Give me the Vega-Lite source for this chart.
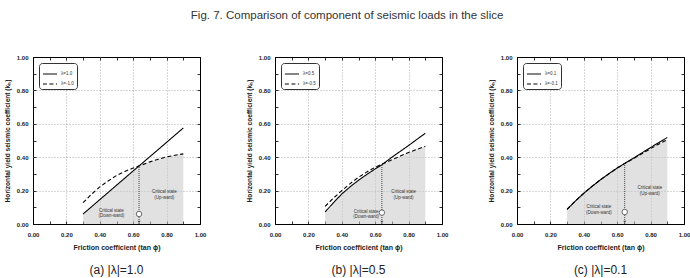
{
  "$schema": "https://vega.github.io/schema/vega-lite/v6.json",
  "padding": {"left": 3, "top": 10, "right": 2, "bottom": 0},
  "background": "white",
  "title": {"text": "Fig. 7. Comparison of component of seismic loads  in the slice", "font": "Liberation Sans", "fontSize": 11.5, "fontWeight": "normal", "color": "#333", "anchor": "middle", "offset": 32},
  "config": {"view": {"stroke": "black", "strokeWidth": 1}},
  "spacing": 38,
  "resolve": {"scale": {"strokeDash": "independent"}, "legend": {"strokeDash": "independent"}},
  "datasets": {
    "lines": [
      {"p": "a", "s": "λ=1.0", "x": 0.3, "y": 0.06},
      {"p": "a", "s": "λ=1.0", "x": 0.45, "y": 0.189},
      {"p": "a", "s": "λ=1.0", "x": 0.6, "y": 0.318},
      {"p": "a", "s": "λ=1.0", "x": 0.75, "y": 0.446},
      {"p": "a", "s": "λ=1.0", "x": 0.9, "y": 0.575},
      {"p": "a", "s": "λ=-1.0", "x": 0.3, "y": 0.128},
      {"p": "a", "s": "λ=-1.0", "x": 0.35, "y": 0.178},
      {"p": "a", "s": "λ=-1.0", "x": 0.4, "y": 0.222},
      {"p": "a", "s": "λ=-1.0", "x": 0.45, "y": 0.258},
      {"p": "a", "s": "λ=-1.0", "x": 0.5, "y": 0.29},
      {"p": "a", "s": "λ=-1.0", "x": 0.55, "y": 0.315},
      {"p": "a", "s": "λ=-1.0", "x": 0.6, "y": 0.335},
      {"p": "a", "s": "λ=-1.0", "x": 0.65, "y": 0.353},
      {"p": "a", "s": "λ=-1.0", "x": 0.7, "y": 0.372},
      {"p": "a", "s": "λ=-1.0", "x": 0.75, "y": 0.388},
      {"p": "a", "s": "λ=-1.0", "x": 0.8, "y": 0.402},
      {"p": "a", "s": "λ=-1.0", "x": 0.85, "y": 0.412},
      {"p": "a", "s": "λ=-1.0", "x": 0.9, "y": 0.42},
      {"p": "b", "s": "λ=0.5", "x": 0.3, "y": 0.072},
      {"p": "b", "s": "λ=0.5", "x": 0.35, "y": 0.128},
      {"p": "b", "s": "λ=0.5", "x": 0.4, "y": 0.18},
      {"p": "b", "s": "λ=0.5", "x": 0.45, "y": 0.223},
      {"p": "b", "s": "λ=0.5", "x": 0.5, "y": 0.262},
      {"p": "b", "s": "λ=0.5", "x": 0.55, "y": 0.297},
      {"p": "b", "s": "λ=0.5", "x": 0.6, "y": 0.33},
      {"p": "b", "s": "λ=0.5", "x": 0.64, "y": 0.355},
      {"p": "b", "s": "λ=0.5", "x": 0.7, "y": 0.4},
      {"p": "b", "s": "λ=0.5", "x": 0.75, "y": 0.435},
      {"p": "b", "s": "λ=0.5", "x": 0.8, "y": 0.47},
      {"p": "b", "s": "λ=0.5", "x": 0.85, "y": 0.507},
      {"p": "b", "s": "λ=0.5", "x": 0.9, "y": 0.543},
      {"p": "b", "s": "λ=-0.5", "x": 0.3, "y": 0.106},
      {"p": "b", "s": "λ=-0.5", "x": 0.35, "y": 0.155},
      {"p": "b", "s": "λ=-0.5", "x": 0.4, "y": 0.2},
      {"p": "b", "s": "λ=-0.5", "x": 0.45, "y": 0.242},
      {"p": "b", "s": "λ=-0.5", "x": 0.5, "y": 0.28},
      {"p": "b", "s": "λ=-0.5", "x": 0.55, "y": 0.312},
      {"p": "b", "s": "λ=-0.5", "x": 0.6, "y": 0.34},
      {"p": "b", "s": "λ=-0.5", "x": 0.64, "y": 0.358},
      {"p": "b", "s": "λ=-0.5", "x": 0.7, "y": 0.385},
      {"p": "b", "s": "λ=-0.5", "x": 0.75, "y": 0.407},
      {"p": "b", "s": "λ=-0.5", "x": 0.8, "y": 0.428},
      {"p": "b", "s": "λ=-0.5", "x": 0.85, "y": 0.447},
      {"p": "b", "s": "λ=-0.5", "x": 0.9, "y": 0.465},
      {"p": "c", "s": "λ=0.1", "x": 0.3, "y": 0.088},
      {"p": "c", "s": "λ=0.1", "x": 0.35, "y": 0.138},
      {"p": "c", "s": "λ=0.1", "x": 0.4, "y": 0.184},
      {"p": "c", "s": "λ=0.1", "x": 0.45, "y": 0.226},
      {"p": "c", "s": "λ=0.1", "x": 0.5, "y": 0.265},
      {"p": "c", "s": "λ=0.1", "x": 0.55, "y": 0.301},
      {"p": "c", "s": "λ=0.1", "x": 0.6, "y": 0.335},
      {"p": "c", "s": "λ=0.1", "x": 0.64, "y": 0.36},
      {"p": "c", "s": "λ=0.1", "x": 0.7, "y": 0.396},
      {"p": "c", "s": "λ=0.1", "x": 0.75, "y": 0.427},
      {"p": "c", "s": "λ=0.1", "x": 0.8, "y": 0.458},
      {"p": "c", "s": "λ=0.1", "x": 0.85, "y": 0.488},
      {"p": "c", "s": "λ=0.1", "x": 0.9, "y": 0.518},
      {"p": "c", "s": "λ=-0.1", "x": 0.3, "y": 0.088},
      {"p": "c", "s": "λ=-0.1", "x": 0.35, "y": 0.138},
      {"p": "c", "s": "λ=-0.1", "x": 0.4, "y": 0.184},
      {"p": "c", "s": "λ=-0.1", "x": 0.45, "y": 0.226},
      {"p": "c", "s": "λ=-0.1", "x": 0.5, "y": 0.265},
      {"p": "c", "s": "λ=-0.1", "x": 0.55, "y": 0.301},
      {"p": "c", "s": "λ=-0.1", "x": 0.6, "y": 0.335},
      {"p": "c", "s": "λ=-0.1", "x": 0.64, "y": 0.359},
      {"p": "c", "s": "λ=-0.1", "x": 0.7, "y": 0.393},
      {"p": "c", "s": "λ=-0.1", "x": 0.75, "y": 0.422},
      {"p": "c", "s": "λ=-0.1", "x": 0.8, "y": 0.452},
      {"p": "c", "s": "λ=-0.1", "x": 0.85, "y": 0.479},
      {"p": "c", "s": "λ=-0.1", "x": 0.9, "y": 0.505}
    ],
    "area": [
      {"p": "a", "x": 0.3, "y": 0.06},
      {"p": "a", "x": 0.45, "y": 0.189},
      {"p": "a", "x": 0.6, "y": 0.318},
      {"p": "a", "x": 0.63, "y": 0.344},
      {"p": "a", "x": 0.65, "y": 0.353},
      {"p": "a", "x": 0.7, "y": 0.372},
      {"p": "a", "x": 0.75, "y": 0.388},
      {"p": "a", "x": 0.8, "y": 0.402},
      {"p": "a", "x": 0.85, "y": 0.412},
      {"p": "a", "x": 0.9, "y": 0.42},
      {"p": "b", "x": 0.3, "y": 0.072},
      {"p": "b", "x": 0.35, "y": 0.128},
      {"p": "b", "x": 0.4, "y": 0.18},
      {"p": "b", "x": 0.45, "y": 0.223},
      {"p": "b", "x": 0.5, "y": 0.262},
      {"p": "b", "x": 0.55, "y": 0.297},
      {"p": "b", "x": 0.6, "y": 0.33},
      {"p": "b", "x": 0.64, "y": 0.355},
      {"p": "b", "x": 0.7, "y": 0.385},
      {"p": "b", "x": 0.75, "y": 0.407},
      {"p": "b", "x": 0.8, "y": 0.428},
      {"p": "b", "x": 0.85, "y": 0.447},
      {"p": "b", "x": 0.9, "y": 0.465},
      {"p": "c", "x": 0.3, "y": 0.088},
      {"p": "c", "x": 0.35, "y": 0.138},
      {"p": "c", "x": 0.4, "y": 0.184},
      {"p": "c", "x": 0.45, "y": 0.226},
      {"p": "c", "x": 0.5, "y": 0.265},
      {"p": "c", "x": 0.55, "y": 0.301},
      {"p": "c", "x": 0.6, "y": 0.335},
      {"p": "c", "x": 0.64, "y": 0.359},
      {"p": "c", "x": 0.7, "y": 0.393},
      {"p": "c", "x": 0.75, "y": 0.422},
      {"p": "c", "x": 0.8, "y": 0.452},
      {"p": "c", "x": 0.85, "y": 0.479},
      {"p": "c", "x": 0.9, "y": 0.505}
    ],
    "vline": [
      {"p": "a", "x": 0.635, "y0": 0.0, "y1": 0.347, "yc": 0.06, "ya": 0.012},
      {"p": "b", "x": 0.64, "y0": 0.0, "y1": 0.356, "yc": 0.068, "ya": 0.012},
      {"p": "c", "x": 0.645, "y0": 0.0, "y1": 0.363, "yc": 0.072, "ya": 0.012}
    ],
    "labels": [
      {"p": "a", "x": 0.47, "y": 0.08, "t": ["Critical state", "(Down-ward)"]},
      {"p": "a", "x": 0.786, "y": 0.19, "t": ["Critical state", "(Up-ward)"]},
      {"p": "b", "x": 0.545, "y": 0.072, "t": ["Critical state", "(Down-ward)"]},
      {"p": "b", "x": 0.77, "y": 0.19, "t": ["Critical state", "(Up-ward)"]},
      {"p": "c", "x": 0.49, "y": 0.1, "t": ["Critical state", "(Down-ward)"]},
      {"p": "c", "x": 0.795, "y": 0.215, "t": ["Critical state", "(Up-ward)"]}
    ]
  },
  "hconcat": [
    {
      "width": 167, "height": 167,
      "title": {"text": "(a)  |λ|=1.0", "orient": "bottom", "font": "Liberation Sans", "fontSize": 12, "fontWeight": "normal", "color": "#222", "offset": 15},
      "resolve": {"axis": {"x": "independent", "y": "independent"}},
      "layer": [
        {"data": {"name": "area"}, "transform": [{"filter": "datum.p=='a'"}],
         "mark": {"type": "area", "color": "#c8c8c8", "opacity": 0.55},
         "encoding": {
           "x": {"field": "x", "type": "quantitative", "scale": {"domain": [0, 1]},
                 "axis": {"orient": "bottom", "values": [0, 0.1, 0.2, 0.3, 0.4, 0.5, 0.6, 0.7, 0.8, 0.9, 1], "format": ".2f", "labelExpr": "round(datum.value*10)%2==0 ? datum.label : ''", "labelFlush": false, "labelOverlap": false, "labelFont": "Liberation Sans", "labelFontSize": 6, "labelFontWeight": "bold", "labelColor": "#222", "labelPadding": 10, "tickSize": -3, "tickColor": "black", "tickWidth": 0.8, "domain": false, "grid": true, "gridColor": "#999", "gridDash": [1, 2], "gridWidth": 0.8, "gridOpacity": {"condition": {"test": "round(datum.value*10)%2==0 && datum.value>0.01 && datum.value<0.99", "value": 1}, "value": 0}, "title": "Friction coefficient (tan ϕ)", "titleFont": "Liberation Sans", "titleFontSize": 7, "titleFontWeight": "bold", "titleColor": "#222", "titlePadding": 6}},
           "y": {"field": "y", "type": "quantitative", "scale": {"domain": [0, 1]},
                 "axis": {"orient": "left", "values": [0, 0.1, 0.2, 0.3, 0.4, 0.5, 0.6, 0.7, 0.8, 0.9, 1], "format": ".2f", "labelExpr": "round(datum.value*10)%2==0 ? datum.label : ''", "labelFlush": false, "labelOverlap": false, "labelFont": "Liberation Sans", "labelFontSize": 6, "labelFontWeight": "bold", "labelColor": "#222", "labelPadding": 8, "tickSize": -3, "tickColor": "black", "tickWidth": 0.8, "domain": false, "grid": true, "gridColor": "#999", "gridDash": [1, 2], "gridWidth": 0.8, "gridOpacity": {"condition": {"test": "round(datum.value*10)%2==0 && datum.value>0.01 && datum.value<0.99", "value": 1}, "value": 0}, "title": "Horizontal yield seismic coefficient (kₕ)", "titleFont": "Liberation Sans", "titleFontSize": 6.6, "titleFontWeight": "bold", "titleColor": "#222", "titlePadding": 6}}
         }},
        {"data": {"name": "lines"}, "transform": [{"filter": "datum.p=='a'"}],
         "mark": {"type": "line", "color": "black", "strokeWidth": 1.1},
         "encoding": {
           "x": {"field": "x", "type": "quantitative", "scale": {"domain": [0, 1]}, "axis": {"orient": "top", "values": [0, 0.1, 0.2, 0.3, 0.4, 0.5, 0.6, 0.7, 0.8, 0.9, 1], "labels": false, "tickSize": -3, "tickColor": "black", "tickWidth": 0.8, "domain": false, "grid": false, "title": null}},
           "y": {"field": "y", "type": "quantitative", "scale": {"domain": [0, 1]}, "axis": {"orient": "right", "values": [0, 0.1, 0.2, 0.3, 0.4, 0.5, 0.6, 0.7, 0.8, 0.9, 1], "labels": false, "tickSize": -3, "tickColor": "black", "tickWidth": 0.8, "domain": false, "grid": false, "title": null}},
           "strokeDash": {"field": "s", "type": "nominal", "scale": {"domain": ["λ=1.0", "λ=-1.0"], "range": [[1, 0], [4, 2.5]]},
             "legend": {"orient": "top-left", "offset": 6, "title": null, "symbolType": "stroke", "symbolSize": 200, "symbolStrokeWidth": 1, "symbolStrokeColor": "black", "labelFont": "Liberation Sans", "labelFontSize": 4.5, "labelColor": "#333", "padding": 3, "rowPadding": 0, "strokeColor": "#333", "cornerRadius": 3, "fillColor": "white", "labelOffset": 3}}
         }},
        {"data": {"name": "vline"}, "transform": [{"filter": "datum.p=='a'"}],
         "mark": {"type": "rule", "color": "#333", "strokeDash": [1, 1], "strokeWidth": 0.9},
         "encoding": {"x": {"field": "x", "type": "quantitative", "axis": null}, "y": {"field": "y0", "type": "quantitative", "axis": null}, "y2": {"field": "y1"}}},
        {"data": {"name": "vline"}, "transform": [{"filter": "datum.p=='a'"}],
         "mark": {"type": "point", "shape": "triangle-down", "filled": true, "color": "#333", "size": 10},
         "encoding": {"x": {"field": "x", "type": "quantitative", "axis": null}, "y": {"field": "ya", "type": "quantitative", "axis": null}}},
        {"data": {"name": "vline"}, "transform": [{"filter": "datum.p=='a'"}],
         "mark": {"type": "point", "shape": "circle", "filled": true, "fill": "white", "stroke": "#333", "strokeWidth": 0.7, "size": 30, "opacity": 1},
         "encoding": {"x": {"field": "x", "type": "quantitative", "axis": null}, "y": {"field": "yc", "type": "quantitative", "axis": null}}},
        {"data": {"name": "labels"}, "transform": [{"filter": "datum.p=='a'"}],
         "mark": {"type": "text", "font": "Liberation Sans", "fontSize": 4.5, "lineHeight": 5.5, "color": "#333", "baseline": "middle", "align": "center"},
         "encoding": {"x": {"field": "x", "type": "quantitative", "axis": null}, "y": {"field": "y", "type": "quantitative", "axis": null}, "text": {"field": "t"}}}
      ]
    },
    {
      "width": 167, "height": 167,
      "title": {"text": "(b)  |λ|=0.5", "orient": "bottom", "font": "Liberation Sans", "fontSize": 12, "fontWeight": "normal", "color": "#222", "offset": 15},
      "resolve": {"axis": {"x": "independent", "y": "independent"}},
      "layer": [
        {"data": {"name": "area"}, "transform": [{"filter": "datum.p=='b'"}],
         "mark": {"type": "area", "color": "#c8c8c8", "opacity": 0.55},
         "encoding": {
           "x": {"field": "x", "type": "quantitative", "scale": {"domain": [0, 1]},
                 "axis": {"orient": "bottom", "values": [0, 0.1, 0.2, 0.3, 0.4, 0.5, 0.6, 0.7, 0.8, 0.9, 1], "format": ".2f", "labelExpr": "round(datum.value*10)%2==0 ? datum.label : ''", "labelFlush": false, "labelOverlap": false, "labelFont": "Liberation Sans", "labelFontSize": 6, "labelFontWeight": "bold", "labelColor": "#222", "labelPadding": 10, "tickSize": -3, "tickColor": "black", "tickWidth": 0.8, "domain": false, "grid": true, "gridColor": "#999", "gridDash": [1, 2], "gridWidth": 0.8, "gridOpacity": {"condition": {"test": "round(datum.value*10)%2==0 && datum.value>0.01 && datum.value<0.99", "value": 1}, "value": 0}, "title": "Friction coefficient (tan ϕ)", "titleFont": "Liberation Sans", "titleFontSize": 7, "titleFontWeight": "bold", "titleColor": "#222", "titlePadding": 6}},
           "y": {"field": "y", "type": "quantitative", "scale": {"domain": [0, 1]},
                 "axis": {"orient": "left", "values": [0, 0.1, 0.2, 0.3, 0.4, 0.5, 0.6, 0.7, 0.8, 0.9, 1], "format": ".2f", "labelExpr": "round(datum.value*10)%2==0 ? datum.label : ''", "labelFlush": false, "labelOverlap": false, "labelFont": "Liberation Sans", "labelFontSize": 6, "labelFontWeight": "bold", "labelColor": "#222", "labelPadding": 8, "tickSize": -3, "tickColor": "black", "tickWidth": 0.8, "domain": false, "grid": true, "gridColor": "#999", "gridDash": [1, 2], "gridWidth": 0.8, "gridOpacity": {"condition": {"test": "round(datum.value*10)%2==0 && datum.value>0.01 && datum.value<0.99", "value": 1}, "value": 0}, "title": "Horizontal yield seismic coefficient (kₕ)", "titleFont": "Liberation Sans", "titleFontSize": 6.6, "titleFontWeight": "bold", "titleColor": "#222", "titlePadding": 6}}
         }},
        {"data": {"name": "lines"}, "transform": [{"filter": "datum.p=='b'"}],
         "mark": {"type": "line", "color": "black", "strokeWidth": 1.1},
         "encoding": {
           "x": {"field": "x", "type": "quantitative", "scale": {"domain": [0, 1]}, "axis": {"orient": "top", "values": [0, 0.1, 0.2, 0.3, 0.4, 0.5, 0.6, 0.7, 0.8, 0.9, 1], "labels": false, "tickSize": -3, "tickColor": "black", "tickWidth": 0.8, "domain": false, "grid": false, "title": null}},
           "y": {"field": "y", "type": "quantitative", "scale": {"domain": [0, 1]}, "axis": {"orient": "right", "values": [0, 0.1, 0.2, 0.3, 0.4, 0.5, 0.6, 0.7, 0.8, 0.9, 1], "labels": false, "tickSize": -3, "tickColor": "black", "tickWidth": 0.8, "domain": false, "grid": false, "title": null}},
           "strokeDash": {"field": "s", "type": "nominal", "scale": {"domain": ["λ=0.5", "λ=-0.5"], "range": [[1, 0], [4, 2.5]]},
             "legend": {"orient": "top-left", "offset": 6, "title": null, "symbolType": "stroke", "symbolSize": 200, "symbolStrokeWidth": 1, "symbolStrokeColor": "black", "labelFont": "Liberation Sans", "labelFontSize": 4.5, "labelColor": "#333", "padding": 3, "rowPadding": 0, "strokeColor": "#333", "cornerRadius": 3, "fillColor": "white", "labelOffset": 3}}
         }},
        {"data": {"name": "vline"}, "transform": [{"filter": "datum.p=='b'"}],
         "mark": {"type": "rule", "color": "#333", "strokeDash": [1, 1], "strokeWidth": 0.9},
         "encoding": {"x": {"field": "x", "type": "quantitative", "axis": null}, "y": {"field": "y0", "type": "quantitative", "axis": null}, "y2": {"field": "y1"}}},
        {"data": {"name": "vline"}, "transform": [{"filter": "datum.p=='b'"}],
         "mark": {"type": "point", "shape": "triangle-down", "filled": true, "color": "#333", "size": 10},
         "encoding": {"x": {"field": "x", "type": "quantitative", "axis": null}, "y": {"field": "ya", "type": "quantitative", "axis": null}}},
        {"data": {"name": "vline"}, "transform": [{"filter": "datum.p=='b'"}],
         "mark": {"type": "point", "shape": "circle", "filled": true, "fill": "white", "stroke": "#333", "strokeWidth": 0.7, "size": 30, "opacity": 1},
         "encoding": {"x": {"field": "x", "type": "quantitative", "axis": null}, "y": {"field": "yc", "type": "quantitative", "axis": null}}},
        {"data": {"name": "labels"}, "transform": [{"filter": "datum.p=='b'"}],
         "mark": {"type": "text", "font": "Liberation Sans", "fontSize": 4.5, "lineHeight": 5.5, "color": "#333", "baseline": "middle", "align": "center"},
         "encoding": {"x": {"field": "x", "type": "quantitative", "axis": null}, "y": {"field": "y", "type": "quantitative", "axis": null}, "text": {"field": "t"}}}
      ]
    },
    {
      "width": 167, "height": 167,
      "title": {"text": "(c)  |λ|=0.1", "orient": "bottom", "font": "Liberation Sans", "fontSize": 12, "fontWeight": "normal", "color": "#222", "offset": 15},
      "resolve": {"axis": {"x": "independent", "y": "independent"}},
      "layer": [
        {"data": {"name": "area"}, "transform": [{"filter": "datum.p=='c'"}],
         "mark": {"type": "area", "color": "#c8c8c8", "opacity": 0.55},
         "encoding": {
           "x": {"field": "x", "type": "quantitative", "scale": {"domain": [0, 1]},
                 "axis": {"orient": "bottom", "values": [0, 0.1, 0.2, 0.3, 0.4, 0.5, 0.6, 0.7, 0.8, 0.9, 1], "format": ".2f", "labelExpr": "round(datum.value*10)%2==0 ? datum.label : ''", "labelFlush": false, "labelOverlap": false, "labelFont": "Liberation Sans", "labelFontSize": 6, "labelFontWeight": "bold", "labelColor": "#222", "labelPadding": 10, "tickSize": -3, "tickColor": "black", "tickWidth": 0.8, "domain": false, "grid": true, "gridColor": "#999", "gridDash": [1, 2], "gridWidth": 0.8, "gridOpacity": {"condition": {"test": "round(datum.value*10)%2==0 && datum.value>0.01 && datum.value<0.99", "value": 1}, "value": 0}, "title": "Friction coefficient (tan ϕ)", "titleFont": "Liberation Sans", "titleFontSize": 7, "titleFontWeight": "bold", "titleColor": "#222", "titlePadding": 6}},
           "y": {"field": "y", "type": "quantitative", "scale": {"domain": [0, 1]},
                 "axis": {"orient": "left", "values": [0, 0.1, 0.2, 0.3, 0.4, 0.5, 0.6, 0.7, 0.8, 0.9, 1], "format": ".2f", "labelExpr": "round(datum.value*10)%2==0 ? datum.label : ''", "labelFlush": false, "labelOverlap": false, "labelFont": "Liberation Sans", "labelFontSize": 6, "labelFontWeight": "bold", "labelColor": "#222", "labelPadding": 8, "tickSize": -3, "tickColor": "black", "tickWidth": 0.8, "domain": false, "grid": true, "gridColor": "#999", "gridDash": [1, 2], "gridWidth": 0.8, "gridOpacity": {"condition": {"test": "round(datum.value*10)%2==0 && datum.value>0.01 && datum.value<0.99", "value": 1}, "value": 0}, "title": "Horizontal yield seismic coefficient (kₕ)", "titleFont": "Liberation Sans", "titleFontSize": 6.6, "titleFontWeight": "bold", "titleColor": "#222", "titlePadding": 6}}
         }},
        {"data": {"name": "lines"}, "transform": [{"filter": "datum.p=='c'"}],
         "mark": {"type": "line", "color": "black", "strokeWidth": 1.1},
         "encoding": {
           "x": {"field": "x", "type": "quantitative", "scale": {"domain": [0, 1]}, "axis": {"orient": "top", "values": [0, 0.1, 0.2, 0.3, 0.4, 0.5, 0.6, 0.7, 0.8, 0.9, 1], "labels": false, "tickSize": -3, "tickColor": "black", "tickWidth": 0.8, "domain": false, "grid": false, "title": null}},
           "y": {"field": "y", "type": "quantitative", "scale": {"domain": [0, 1]}, "axis": {"orient": "right", "values": [0, 0.1, 0.2, 0.3, 0.4, 0.5, 0.6, 0.7, 0.8, 0.9, 1], "labels": false, "tickSize": -3, "tickColor": "black", "tickWidth": 0.8, "domain": false, "grid": false, "title": null}},
           "strokeDash": {"field": "s", "type": "nominal", "scale": {"domain": ["λ=0.1", "λ=-0.1"], "range": [[1, 0], [4, 2.5]]},
             "legend": {"orient": "top-left", "offset": 6, "title": null, "symbolType": "stroke", "symbolSize": 200, "symbolStrokeWidth": 1, "symbolStrokeColor": "black", "labelFont": "Liberation Sans", "labelFontSize": 4.5, "labelColor": "#333", "padding": 3, "rowPadding": 0, "strokeColor": "#333", "cornerRadius": 3, "fillColor": "white", "labelOffset": 3}}
         }},
        {"data": {"name": "vline"}, "transform": [{"filter": "datum.p=='c'"}],
         "mark": {"type": "rule", "color": "#333", "strokeDash": [1, 1], "strokeWidth": 0.9},
         "encoding": {"x": {"field": "x", "type": "quantitative", "axis": null}, "y": {"field": "y0", "type": "quantitative", "axis": null}, "y2": {"field": "y1"}}},
        {"data": {"name": "vline"}, "transform": [{"filter": "datum.p=='c'"}],
         "mark": {"type": "point", "shape": "triangle-down", "filled": true, "color": "#333", "size": 10},
         "encoding": {"x": {"field": "x", "type": "quantitative", "axis": null}, "y": {"field": "ya", "type": "quantitative", "axis": null}}},
        {"data": {"name": "vline"}, "transform": [{"filter": "datum.p=='c'"}],
         "mark": {"type": "point", "shape": "circle", "filled": true, "fill": "white", "stroke": "#333", "strokeWidth": 0.7, "size": 30, "opacity": 1},
         "encoding": {"x": {"field": "x", "type": "quantitative", "axis": null}, "y": {"field": "yc", "type": "quantitative", "axis": null}}},
        {"data": {"name": "labels"}, "transform": [{"filter": "datum.p=='c'"}],
         "mark": {"type": "text", "font": "Liberation Sans", "fontSize": 4.5, "lineHeight": 5.5, "color": "#333", "baseline": "middle", "align": "center"},
         "encoding": {"x": {"field": "x", "type": "quantitative", "axis": null}, "y": {"field": "y", "type": "quantitative", "axis": null}, "text": {"field": "t"}}}
      ]
    }
  ]
}
